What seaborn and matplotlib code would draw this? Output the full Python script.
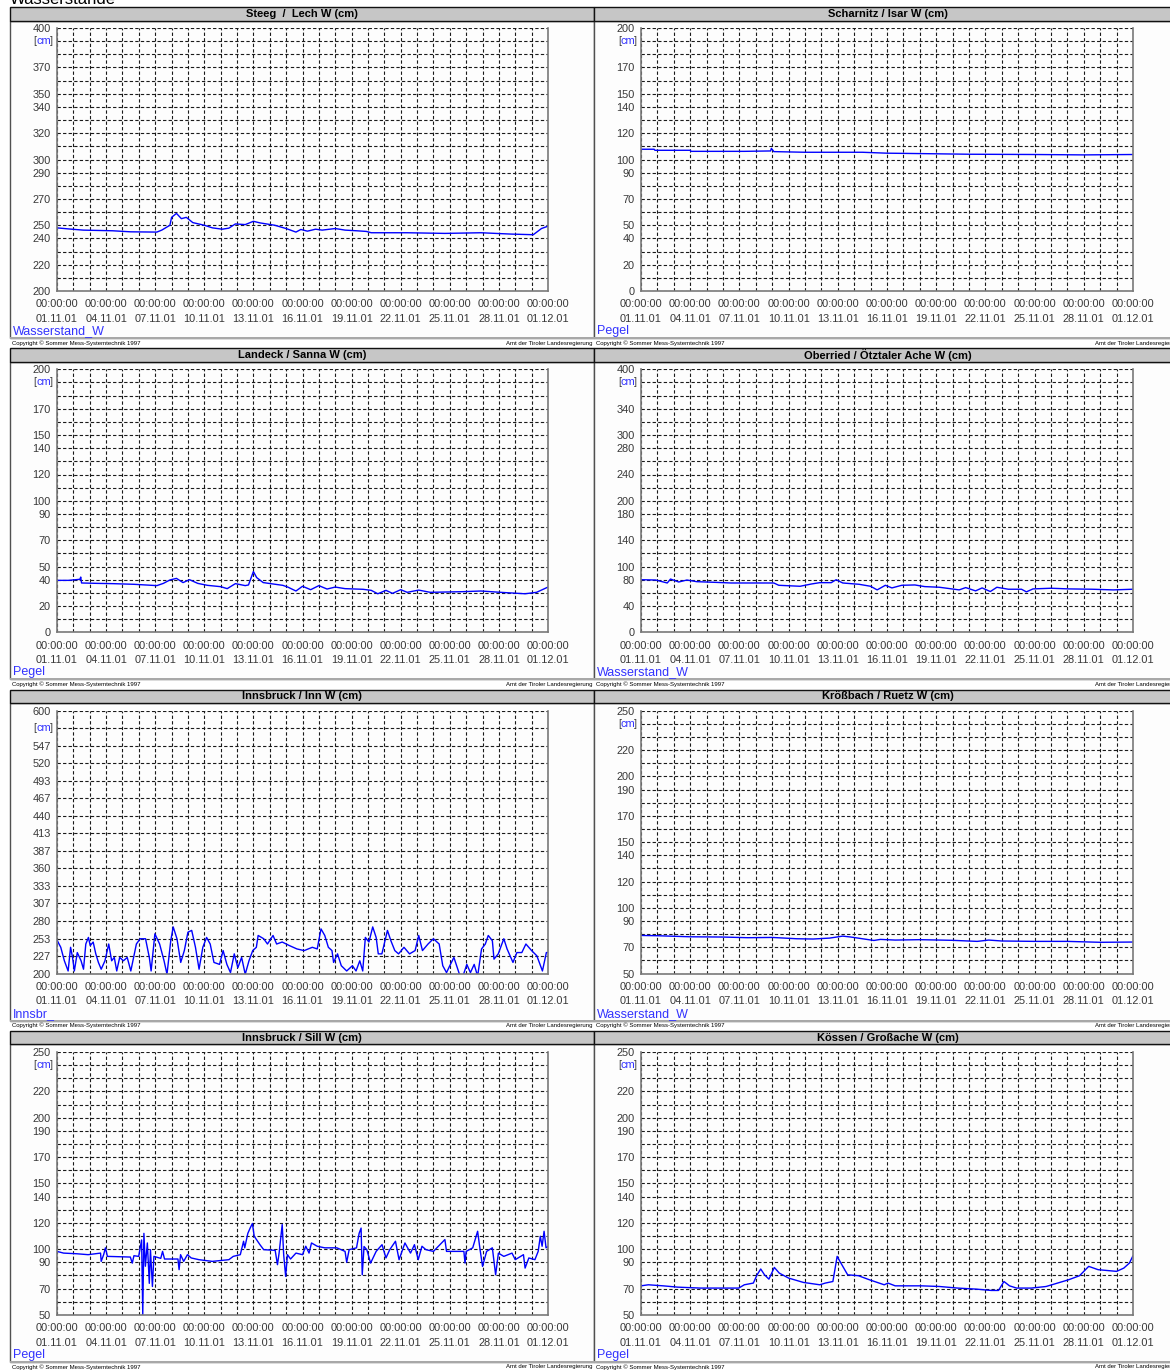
import numpy as np
import pandas as pd
import matplotlib
matplotlib.use("Agg")
import matplotlib.pyplot as plt
import seaborn as sns
from matplotlib.patches import Rectangle

sns.set_style("white")
plt.rcParams["font.family"] = ["Liberation Sans", "DejaVu Sans"]

# ---------------- data ----------------
x_tick_labels = ["00:00:00\n01.11.01", "00:00:00\n04.11.01", "00:00:00\n07.11.01",
                 "00:00:00\n10.11.01", "00:00:00\n13.11.01", "00:00:00\n16.11.01",
                 "00:00:00\n19.11.01", "00:00:00\n22.11.01", "00:00:00\n25.11.01",
                 "00:00:00\n28.11.01", "00:00:00\n01.12.01"]

titles = ["Steeg  /  Lech W (cm)", "Scharnitz / Isar W (cm)",
          "Landeck / Sanna W (cm)", "Oberried / Ötztaler Ache W (cm)",
          "Innsbruck / Inn W (cm)", "Krößbach / Ruetz W (cm)",
          "Innsbruck / Sill W (cm)", "Kössen / Großache W (cm)"]
series_labels = ["Wasserstand_W", "Pegel", "Pegel", "Wasserstand_W",
                 "Innsbr_", "Wasserstand_W", "Pegel", "Pegel"]

steeg_days = [0, 0.9, 1.6, 3.4, 4.5, 6.1, 6.4, 6.9, 7.0, 7.3, 7.6, 7.9, 8.3, 9.0, 9.5, 10.1,
              10.5, 10.9, 11.5, 12.0, 12.4, 13.3, 14.0, 14.6, 14.9, 15.3, 15.8, 16.2, 17.0,
              17.6, 18.3, 18.9, 19.2, 21.4, 23.7, 25.9, 27.7, 29.1, 29.6, 30.0]
steeg_w = [248, 247, 246.3, 245.8, 245, 244.8, 246.3, 250, 256, 259, 255, 256, 252, 250, 248,
           247, 247.8, 251, 250.5, 253, 251.8, 250, 247.5, 244.8, 246.8, 245.5, 247, 246.3,
           247.5, 246.3, 245.8, 245.3, 244.3, 244.3, 243.8, 244.3, 243.3, 242.8, 247.5, 249.3]

scharnitz_days = [0, 0.8, 0.85, 3.0, 3.05, 6.3, 7.9, 7.95, 8.1, 10.0, 13.5, 15.0, 17.0,
                  20.0, 24.0, 27.0, 30.0]
scharnitz_w = [107.8, 107.8, 107.0, 107.0, 106.2, 106.2, 106.5, 108.5, 106.0, 105.5, 105.5,
               104.8, 104.5, 104.0, 103.8, 103.5, 103.8]

landeck_days = [0, 0.7, 1.4, 1.45, 1.5, 2.5, 3.4, 4.7, 6.1, 6.5, 6.9, 7.3, 7.7, 8.1, 8.6, 9.2,
                10.0, 10.4, 10.9, 11.5, 11.7, 12.0, 12.2, 12.6, 13.8, 14.1, 14.6, 15.0, 15.5,
                16.0, 16.5, 17.0, 17.6, 18.7, 19.2, 19.6, 20.1, 20.5, 21.0, 21.4, 22.1, 22.8,
                24.8, 25.9, 27.1, 28.6, 29.3, 30.0]
landeck_w = [39.5, 39.5, 40.3, 42, 37.5, 37.2, 37, 36.5, 35.5, 37.2, 39.8, 41, 37.8, 40, 37.2,
             35.7, 34.7, 33.2, 37, 35.5, 36, 46.2, 41.6, 37.8, 35.7, 34.4, 31.4, 35, 32.4,
             35.5, 32.9, 34.4, 33.2, 32.7, 31.9, 29.3, 31.9, 29.6, 32.4, 30.4, 32.1, 30.4,
             30.9, 31.4, 30.4, 29.3, 30.4, 34.4]

oberried_days = [0, 0.9, 1.6, 1.8, 2.3, 2.8, 3.4, 4.5, 5.5, 6.8, 8.1, 8.4, 9.7, 10.4, 10.9,
                 11.6, 11.9, 12.3, 13.3, 14.0, 14.4, 14.9, 15.3, 15.9, 16.7, 17.3, 18.2, 19.4,
                 19.8, 20.4, 20.8, 21.3, 21.7, 22.4, 23.2, 23.5, 23.9, 25.0, 26.1, 27.5, 28.8,
                 30.0]
oberried_w = [80, 79.5, 75, 81, 76.5, 79.5, 77, 76, 75, 75, 75, 71.5, 70, 73.5, 75.5, 75.5, 80,
              75, 73, 70, 64.5, 71.5, 67.5, 71.5, 72, 69.5, 68.5, 64.5, 68, 63, 67.5, 62, 68.5,
              65.5, 65.5, 61.5, 66, 67, 66, 65.5, 64.5, 65.5]

inn_days = [0, 0.23, 0.45, 0.68, 0.83, 0.95, 1.06, 1.24, 1.47, 1.62, 1.76, 1.92, 2.03, 2.21,
            2.37, 2.53, 2.7, 2.93, 3.16, 3.34, 3.5, 3.65, 3.83, 4.06, 4.29, 4.51, 4.85, 5.08,
            5.41, 5.64, 5.75, 5.98, 6.27, 6.54, 6.72, 6.95, 7.1, 7.33, 7.56, 7.78, 8.0, 8.23,
            8.46, 8.68, 8.91, 9.14, 9.36, 9.59, 9.93, 10.15, 10.38, 10.6, 10.83, 11.05, 11.28,
            11.5, 11.73, 11.96, 12.18, 12.29, 12.63, 12.86, 13.2, 13.42, 13.76, 14.2, 14.66,
            15.1, 15.6, 15.9, 16.13, 16.36, 16.58, 16.8, 16.9, 17.14, 17.37, 17.7, 18.05,
            18.27, 18.5, 18.68, 18.84, 19.06, 19.29, 19.5, 19.63, 19.85, 20.19, 20.4, 20.64,
            20.87, 21.2, 21.54, 21.88, 22.1, 22.33, 22.67, 23.0, 23.35, 23.57, 23.8, 24.0,
            24.25, 24.59, 24.8, 25.04, 25.26, 25.49, 25.7, 25.94, 26.17, 26.35, 26.6, 26.7,
            26.96, 27.3, 27.5, 27.86, 28.1, 28.4, 28.65, 29.0, 29.32, 29.66, 29.9, 30.0]
inn_w = [251, 240, 219.5, 204, 240, 224.6, 204, 232, 219.5, 206.7, 245, 255, 242.6, 248, 230,
         217, 206.7, 219.5, 245, 219.5, 224.6, 204, 224.6, 219.5, 224.6, 204, 245, 253, 253,
         224.6, 204, 260.5, 245, 219.5, 199, 250, 271, 253, 217, 235, 263, 265.7, 240, 206.7,
         240, 255, 245, 217, 214, 235, 214, 201.5, 230, 209, 224.6, 199, 219.5, 235, 240, 258,
         253, 245, 258, 245, 248, 242.6, 237.5, 235, 240, 237.5, 268, 258, 240, 235, 217, 230,
         212, 204, 212, 204, 219.5, 204, 255, 248, 271, 255, 230, 230, 265.7, 250, 235, 230,
         240, 230, 235, 258, 235, 245, 253, 245, 212, 201.5, 212, 224.6, 199, 196, 214, 201.5,
         214, 196, 237.5, 245, 258, 250, 222, 230, 253, 237.5, 217, 232, 232, 245, 235, 227,
         204, 232, 232]

kroessbach_days = [0, 1, 3, 5, 6.5, 8, 9.5, 10.5, 11.5, 12.3, 12.8, 13.5, 14.2, 14.6, 15.5,
                   17, 19, 20.5, 21.2, 22, 24, 26, 28, 30]
kroessbach_w = [79, 78.8, 78, 77.8, 77.3, 77.5, 76.5, 76.3, 77, 78.5, 77.8, 76.5, 75.2, 76,
                75.5, 75.8, 75.3, 74.5, 75.5, 74.8, 74.5, 74.5, 73.8, 74]

sill_days = [0, 0.4, 1.2, 1.9, 2.66, 2.7, 2.85, 2.96, 3.08, 4.48, 4.6, 4.7, 4.99, 5.17, 5.24,
             5.31, 5.4, 5.52, 5.64, 5.71, 5.83, 5.92, 6.34, 6.45, 6.57, 7.39, 7.46, 7.55, 7.74,
             7.97, 8.2, 8.67, 9.49, 10.5, 10.77, 11.2, 11.4, 11.47, 11.66, 11.8, 11.94, 12.05,
             12.4, 12.63, 13.33, 13.47, 13.57, 13.76, 13.85, 13.97, 14.08, 14.27, 14.6, 15.0,
             15.2, 15.4, 15.55, 15.9, 16.36, 17.1, 17.6, 17.7, 17.85, 18.3, 18.46, 18.58,
             18.65, 18.76, 18.93, 19.16, 19.5, 19.86, 20.1, 20.33, 20.68, 20.9, 21.26, 21.6,
             21.84, 22.07, 22.3, 22.54, 23.0, 23.7, 23.8, 24.86, 24.93, 25.0, 25.4, 25.7,
             25.85, 26.0, 26.25, 26.6, 26.8, 26.97, 27.3, 27.8, 28.0, 28.5, 28.6, 28.83, 29.2,
             29.4, 29.53, 29.64, 29.76, 29.88, 30.0]
sill_w = [98.3, 97, 96.5, 95.8, 97, 90.7, 95.8, 101, 94.5, 94, 89.4, 95, 94.5, 107, 50, 112, 87,
          104.7, 74, 99.6, 71.6, 94.5, 93, 98.3, 92.5, 92.5, 84.4, 95.8, 90.7, 95.8, 93.3, 92,
          90.7, 92, 94.5, 95.8, 106, 101, 112, 116, 119.5, 109.8, 103.4, 99.6, 99.1, 88.2, 97,
          118.7, 95.8, 79.3, 95.8, 92.5, 97, 95.8, 102.2, 97, 104.7, 102.2, 101, 101, 98.3, 90,
          99.6, 101, 112, 116, 80.5, 102, 99.6, 89.4, 98.3, 103.4, 93.3, 99.6, 106, 92, 104.7,
          97, 103.4, 92, 102.2, 99.6, 98.3, 107.3, 98.3, 98.3, 89.4, 98.3, 101, 113.6, 99.6,
          86.9, 98.3, 101, 80.5, 97, 94.5, 97, 92, 95.8, 85.6, 93.3, 92, 98.3, 109.8, 102.2,
          113.6, 101, 102]

koessen_days = [0, 0.45, 1.35, 2.25, 3.6, 4.94, 5.96, 6.3, 6.85, 7.08, 7.3, 7.53, 7.8, 8.13,
                8.43, 9.0, 9.9, 10.9, 11.24, 11.7, 11.96, 12.13, 12.6, 13.26, 13.93, 14.83,
                15.06, 15.5, 17.1, 18.2, 19.3, 20.45, 21.35, 21.8, 22.13, 22.47, 22.9, 23.8,
                24.7, 25.4, 26.07, 26.74, 27.3, 27.87, 29.0, 29.44, 29.78, 30.0]
koessen_w = [72.1, 72.9, 72.1, 71.1, 70.4, 70.4, 70.4, 72.9, 74.2, 80.5, 84.9, 80.5, 77.2, 86.1,
             81.8, 78, 74.7, 72.9, 74.2, 75.4, 94.5, 90.7, 80.5, 79.8, 76.7, 72.9, 74.2, 72.1,
             72.1, 71.6, 70.4, 69.6, 68.6, 68.6, 75.4, 72.1, 70.4, 70.4, 71.6, 74.2, 76.7, 79.8,
             86.9, 84.4, 83.1, 85.6, 89.4, 95]

yt_steeg = ['400', '[cm]', '', '370', '', '350', '340', '', '320', '', '300', '290', '', '270',
            '', '250', '240', '', '220', '', '200']
yt_200 = ['200', '[cm]', '', '170', '', '150', '140', '', '120', '', '100', '90', '', '70', '',
          '50', '40', '', '20', '', '0']
yt_oberried = ['400', '[cm]', '', '340', '', '300', '280', '', '240', '', '200', '180', '',
               '140', '', '100', '80', '', '40', '', '0']
yt_inn = ['600', '[cm]', '547', '520', '493', '467', '440', '413', '387', '360', '333', '307',
          '280', '253', '227', '200']
yt_250 = ['250', '[cm]', '', '220', '', '200', '190', '', '170', '', '150', '140', '', '120',
          '', '100', '90', '', '70', '', '50']

ylims = [(200, 400), (0, 200), (0, 200), (0, 400), (200, 600), (50, 250), (50, 250), (50, 250)]
yticklists = [yt_steeg, yt_200, yt_200, yt_oberried, yt_inn, yt_250, yt_250, yt_250]
all_days = [steeg_days, scharnitz_days, landeck_days, oberried_days, inn_days,
            kroessbach_days, sill_days, koessen_days]
all_vals = [steeg_w, scharnitz_w, landeck_w, oberried_w, inn_w, kroessbach_w, sill_w,
            koessen_w]

# ---------------- layout ----------------
W, H = 1170, 1370
fig = plt.figure(figsize=(W / 100, H / 100), dpi=100)
fig.patch.set_facecolor("white")


def fx(px):
    return px / W


def fy(py):
    return 1 - py / H


def frect(x0, y0, x1, y1, **kw):
    r = Rectangle((fx(x0), fy(y1)), fx(x1) - fx(x0), fy(y0) - fy(y1),
                  transform=fig.transFigure, **kw)
    fig.add_artist(r)
    return r


fig.text(fx(10), fy(4), "Wasserstände", fontsize=12, va="baseline", ha="left", color="black")

PITCH = 341.3
col_frame = [(10, 594), (594, 1182)]
col_plot = [(57, 548), (641, 1133)]
GRID_KW = dict(color="#1a1a1a", linestyle=(0, (3, 2)), linewidth=0.8)
TICK_COLOR = "#383838"
SPINE_COLOR = "#7a7a7a"

for i in range(8):
    r, c = divmod(i, 2)
    T = r * PITCH
    fx0, fx1 = col_frame[c]
    # panel frame and title bar
    frect(fx0, T + 20.5, fx1, T + 338, facecolor="#fdfdfd", edgecolor="#505050",
          linewidth=1.0, zorder=-5)
    frect(fx0, T + 337, fx1, T + 339, facecolor="#a8a8a8", edgecolor="none", zorder=-4)
    frect(fx0, T + 7, fx1, T + 20.5, facecolor="#c6c6c6", edgecolor="#111111",
          linewidth=1.0, zorder=-3)
    fig.text(fx((fx0 + fx1) / 2), fy(T + 13.8), titles[i], fontsize=8, fontweight="bold",
             ha="center", va="center", color="black")
    # series label and copyright line
    fig.text(fx(fx0 + 3), fy(T + 331), series_labels[i], fontsize=9, color="#3333ff",
             ha="left", va="center")
    fig.text(fx(fx0 + 1.5), fy(T + 343), "Copyright © Sommer Mess-Systemtechnik 1997",
             fontsize=4.3, ha="left", va="center", color="black")
    if c == 0:
        fig.text(fx(593), fy(T + 343), "Amt der Tiroler Landesregierung", fontsize=4.3,
                 ha="right", va="center", color="black")
    else:
        fig.text(fx(1095), fy(T + 343), "Amt der Tiroler Landesregierung", fontsize=4.3,
                 ha="left", va="center", color="black")

    # plot area
    px0, px1 = col_plot[c]
    ax = fig.add_axes([fx(px0), fy(T + 28 + 263), fx(px1) - fx(px0), 263 / H])
    ax.patch.set_alpha(0)
    df = pd.DataFrame({"day": all_days[i], "w": all_vals[i]})
    sns.lineplot(data=df, x="day", y="w", ax=ax, color="#0000ff", linewidth=1.0,
                 estimator=None, legend=False)
    ax.set_xlabel("")
    ax.set_ylabel("")

    ax.set_xlim(0, 30)
    ax.set_xticks(np.arange(0, 31, 3))
    ax.set_xticklabels(x_tick_labels, linespacing=1.55)
    ax.set_xticks(np.arange(0, 31, 1), minor=True)

    lo, hi = ylims[i]
    labels = yticklists[i]
    n = len(labels) - 1
    grid_pos = hi - (hi - lo) * np.arange(n + 1) / n
    ax.set_ylim(lo, hi)
    major_pos = [p for p, l in zip(grid_pos, labels) if l]
    major_lab = [("" if l == "[cm]" else l) for l in labels if l]
    ax.set_yticks(major_pos)
    ax.set_yticklabels(major_lab)
    ax.set_yticks(grid_pos, minor=True)

    ax.grid(True, which="both", **GRID_KW)
    ax.set_axisbelow(True)
    ax.tick_params(axis="both", which="major", labelsize=7.9, labelcolor=TICK_COLOR,
                   color=SPINE_COLOR, direction="out")
    ax.tick_params(axis="y", which="major", length=4, pad=0.5)
    ax.tick_params(axis="x", which="major", length=3, pad=3)
    ax.tick_params(which="minor", length=0)
    for s in ["left", "bottom", "right"]:
        ax.spines[s].set_color(SPINE_COLOR)
        ax.spines[s].set_linewidth(1.2)
    ax.spines["top"].set_visible(False)

    # "[cm]" unit label: grey brackets, blue text
    ycm = grid_pos[1]
    t1 = ax.annotate("]", xy=(0, ycm), xycoords=ax.get_yaxis_transform(), xytext=(-4.5, 0),
                     textcoords="offset pixels", ha="right", va="center", fontsize=7.9,
                     color=TICK_COLOR, annotation_clip=False)
    t2 = ax.annotate("cm", xy=(0, 0.5), xycoords=t1, xytext=(1.5, 0),
                     textcoords="offset pixels", ha="right", va="center", fontsize=7.9,
                     color="#3333ff", annotation_clip=False)
    t3 = ax.annotate("[", xy=(0, 0.5), xycoords=t2, xytext=(0.5, 0),
                     textcoords="offset pixels", ha="right", va="center", fontsize=7.9,
                     color=TICK_COLOR, annotation_clip=False)

fig.savefig("out.png", dpi=100, facecolor="white")
